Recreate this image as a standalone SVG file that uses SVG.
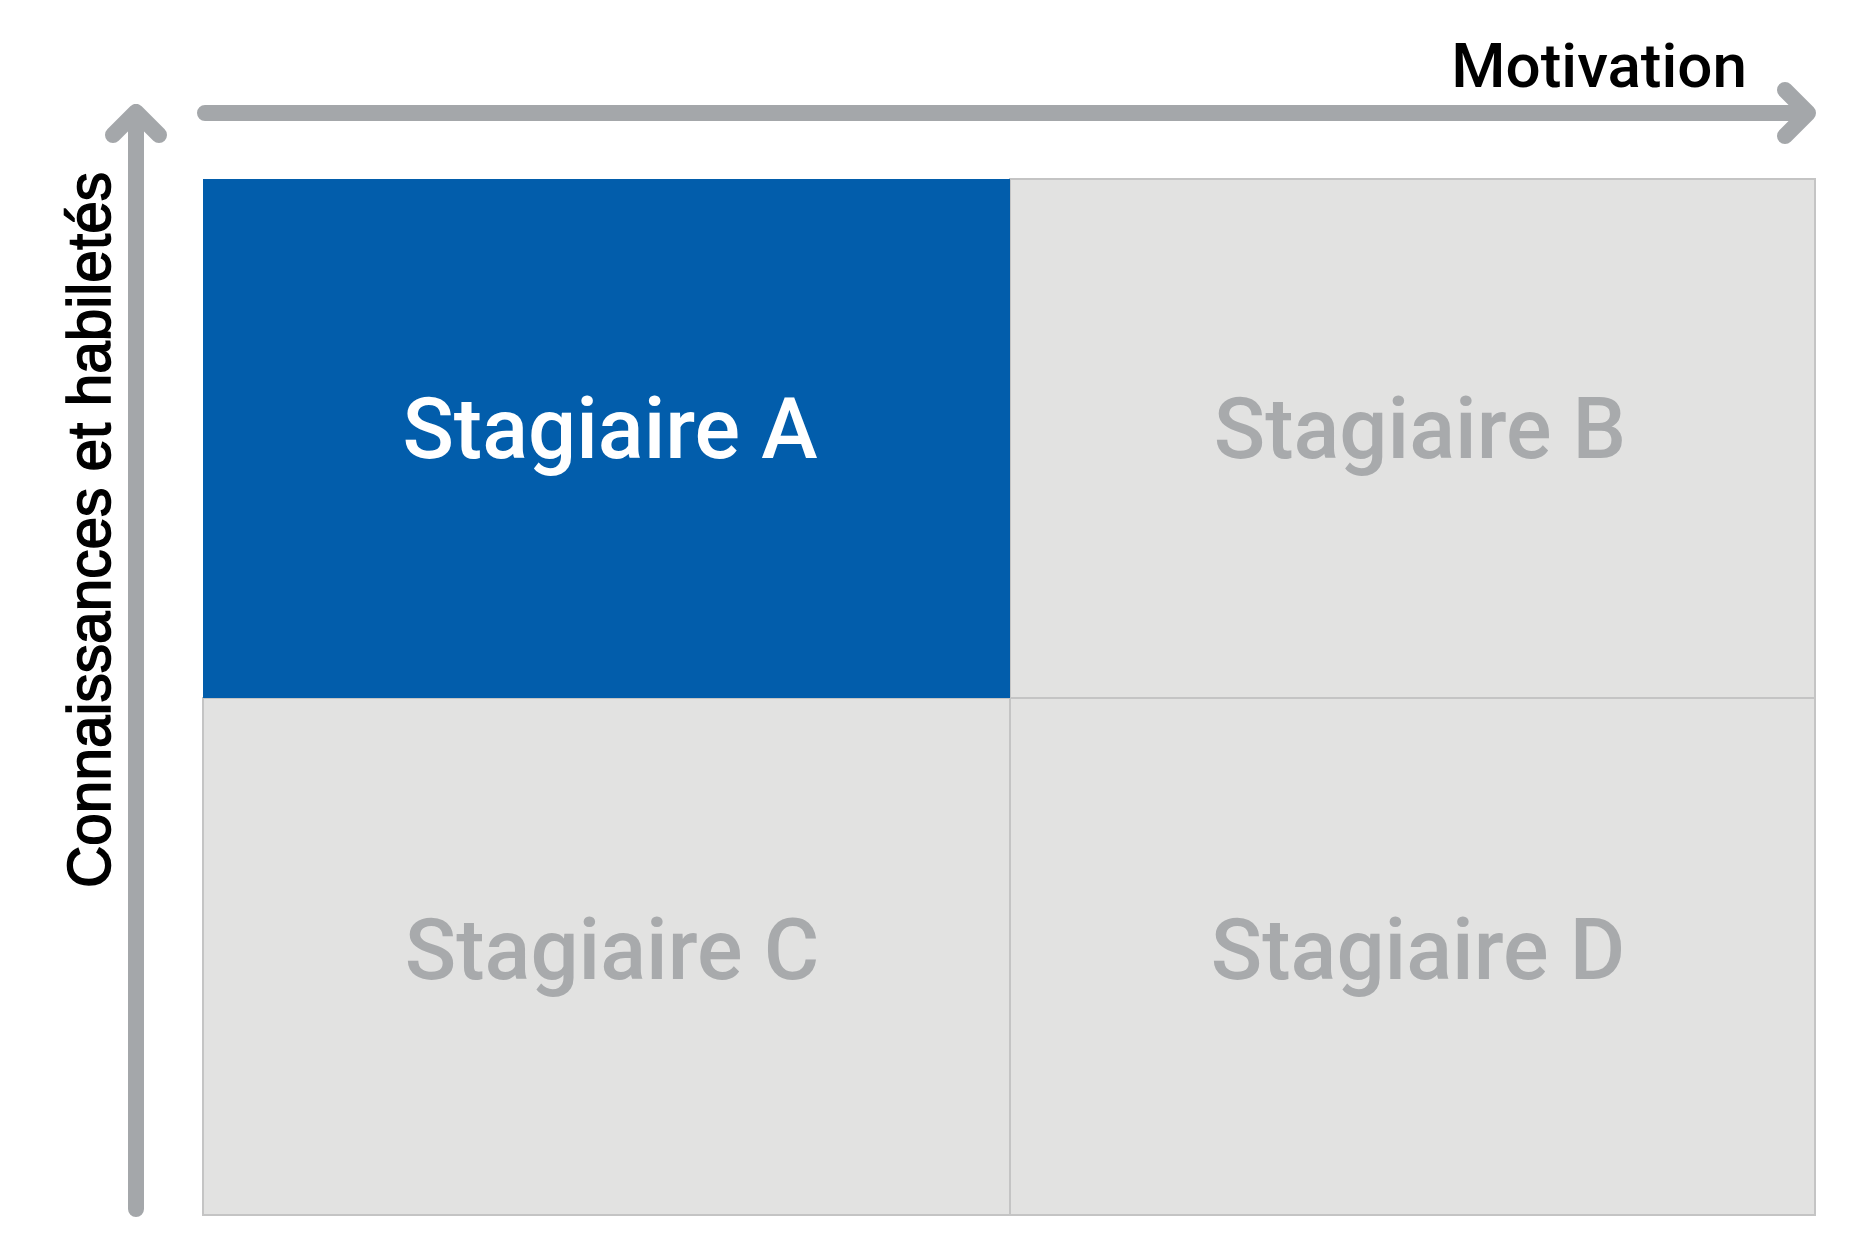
<svg xmlns="http://www.w3.org/2000/svg" width="1875" height="1251" viewBox="0 0 1875 1251">
<style>
.cell{fill:#E2E2E1;stroke:#C4C4C4;stroke-width:2}
.lbl{font-family:Roboto,"Liberation Sans",sans-serif;font-weight:500;font-size:85px;text-anchor:middle}
.grey{fill:#A8AAAC}
.axis{fill:none;stroke:#A4A7AA;stroke-width:16;stroke-linecap:round;stroke-linejoin:round}
</style>
<rect width="1875" height="1251" fill="#FFFFFF"/>
<g id="cellB"><rect class="cell" x="1010" y="179" width="805" height="519"/><text class="lbl grey" x="1420" y="458">Stagiaire B</text></g>
<g id="cellC"><rect class="cell" x="203" y="698" width="807" height="517"/><text class="lbl grey" x="612" y="979">Stagiaire C</text></g>
<g id="cellD"><rect class="cell" x="1010" y="698" width="805" height="517"/><text class="lbl grey" x="1418" y="979">Stagiaire D</text></g>
<g id="cellA"><rect x="203" y="179" width="807" height="519" fill="#025DAB"/><text class="lbl" fill="#FFFFFF" x="610" y="458">Stagiaire A</text></g>
<g id="connectors">
<path class="axis" d="M136 1209 L136 112 M113 135 L136 112 L159 135"/>
<path class="axis" d="M205 113 L1808 113 M1785 90 L1808 113 L1785 136"/>
</g>
<g id="labelX"><text x="1747" y="87" font-family="Roboto,'Liberation Sans',sans-serif" font-weight="500" font-size="62" text-anchor="end" fill="#000000">Motivation</text></g>
<g id="labelY"><text x="110" y="888" transform="rotate(-90 110 888)" font-family="'Liberation Sans',Arial,sans-serif" font-size="62" textLength="716" lengthAdjust="spacingAndGlyphs" fill="#000000" stroke="#000000" stroke-width="1.6">Connaissances et habiletés</text></g>
</svg>
